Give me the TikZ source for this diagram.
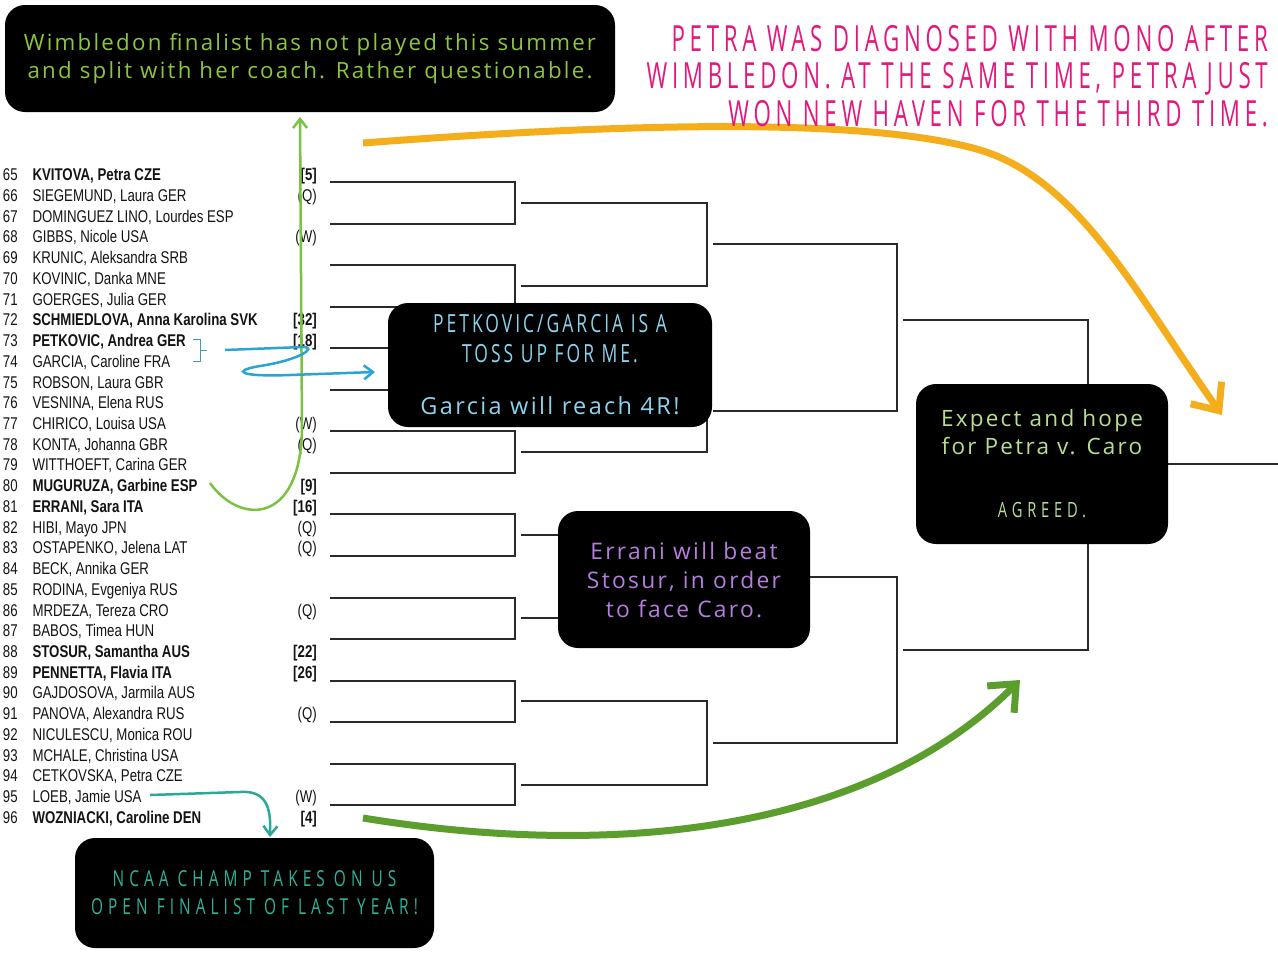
\documentclass[tikz,border=0pt]{standalone}
\usepackage{fontspec}
\usetikzlibrary{arrows.meta}
\newfontfamily\listfont[FakeStretch=0.78]{Liberation Sans}
\newfontfamily\handfont[LetterSpace=10]{Open Sans}
\newfontfamily\pinkfont[FakeStretch=0.62,LetterSpace=13]{Open Sans}
\newfontfamily\tossfont[FakeStretch=0.7,LetterSpace=12]{Open Sans}
\newfontfamily\ncaafont[FakeStretch=0.7,LetterSpace=23]{Open Sans}
\definecolor{listink}{HTML}{141414}
\definecolor{bracketink}{HTML}{2A2A2A}
\definecolor{petrapink}{HTML}{E2197C}
\definecolor{wimgreen}{HTML}{8CC63F}
\definecolor{tossblue}{HTML}{8DD3EE}
\definecolor{hopegreen}{HTML}{B7DF93}
\definecolor{erranipurple}{HTML}{B77EE0}
\definecolor{ncaateal}{HTML}{2DB39B}
\definecolor{arroworange}{HTML}{F5AE1B}
\definecolor{arrowgreen}{HTML}{5B9E2E}
\definecolor{thingreen}{HTML}{7CC242}
\definecolor{arrowblue}{HTML}{2AA4D4}
\definecolor{arrowteal}{HTML}{2AA89A}
\begin{document}
\begin{tikzpicture}[x=1pt,y=-1pt,
	bracket/.style={draw=bracketink,line width=2pt},
	player/.style={anchor=base west,inner sep=0pt,text=listink,font=\listfont\fontsize{17}{17}\selectfont},
	drawnum/.style={player},
	seedmark/.style={player,anchor=base east},
	callout/.style={fill=black,rounded corners=20pt,inner sep=0pt,align=center},
	fatarrow/.style={line width=7pt,-{Straight Barb[length=22pt,width=38pt]}},
	thinarrow/.style={line width=2.5pt,-{Straight Barb[length=9pt,width=14pt]}}]
	\fill[white] (0,0) rectangle (1278,959);
	\useasboundingbox (0,0) rectangle (1278,959);
	% draw list
	\foreach \n/\name/\seed/\wt in {
		65/{KVITOVA, Petra CZE}/{[5]}/\bfseries,
		66/{SIEGEMUND, Laura GER}/{(Q)}/\mdseries,
		67/{DOMINGUEZ LINO, Lourdes ESP}/{}/\mdseries,
		68/{GIBBS, Nicole USA}/{(W)}/\mdseries,
		69/{KRUNIC, Aleksandra SRB}/{}/\mdseries,
		70/{KOVINIC, Danka MNE}/{}/\mdseries,
		71/{GOERGES, Julia GER}/{}/\mdseries,
		72/{SCHMIEDLOVA, Anna Karolina SVK}/{[32]}/\bfseries,
		73/{PETKOVIC, Andrea GER}/{[18]}/\bfseries,
		74/{GARCIA, Caroline FRA}/{}/\mdseries,
		75/{ROBSON, Laura GBR}/{}/\mdseries,
		76/{VESNINA, Elena RUS}/{}/\mdseries,
		77/{CHIRICO, Louisa USA}/{(W)}/\mdseries,
		78/{KONTA, Johanna GBR}/{(Q)}/\mdseries,
		79/{WITTHOEFT, Carina GER}/{}/\mdseries,
		80/{MUGURUZA, Garbine ESP}/{[9]}/\bfseries,
		81/{ERRANI, Sara ITA}/{[16]}/\bfseries,
		82/{HIBI, Mayo JPN}/{(Q)}/\mdseries,
		83/{OSTAPENKO, Jelena LAT}/{(Q)}/\mdseries,
		84/{BECK, Annika GER}/{}/\mdseries,
		85/{RODINA, Evgeniya RUS}/{}/\mdseries,
		86/{MRDEZA, Tereza CRO}/{(Q)}/\mdseries,
		87/{BABOS, Timea HUN}/{}/\mdseries,
		88/{STOSUR, Samantha AUS}/{[22]}/\bfseries,
		89/{PENNETTA, Flavia ITA}/{[26]}/\bfseries,
		90/{GAJDOSOVA, Jarmila AUS}/{}/\mdseries,
		91/{PANOVA, Alexandra RUS}/{(Q)}/\mdseries,
		92/{NICULESCU, Monica ROU}/{}/\mdseries,
		93/{MCHALE, Christina USA}/{}/\mdseries,
		94/{CETKOVSKA, Petra CZE}/{}/\mdseries,
		95/{LOEB, Jamie USA}/{(W)}/\mdseries,
		96/{WOZNIACKI, Caroline DEN}/{[4]}/\bfseries}{
		\pgfmathsetmacro\yy{180.7+20.73*(\n-65)}
		\node[drawnum] (n\n) at (2.7,\yy) {\n};
		\node[player] (p\n) at (32.3,\yy) {\wt\name};
		\node[seedmark] (s\n) at (317,\yy) {\wt\seed};
	}
	% draw bracket
	\foreach \k in {0,...,7}{
		\pgfmathsetmacro\ya{182+83.1*\k}
		\pgfmathsetmacro\yb{\ya+41.55}
		\draw[bracket] (330,\ya) -- (515,\ya) -- (515,\yb) -- (330,\yb);
	}
	\foreach \k in {0,...,3}{
		\pgfmathsetmacro\ya{202.8+166.2*\k}
		\pgfmathsetmacro\yb{\ya+83.1}
		\draw[bracket] (521,\ya) -- (707,\ya) -- (707,\yb) -- (521,\yb);
	}
	\foreach \k in {0,1}{
		\pgfmathsetmacro\ya{244.3+332.4*\k}
		\pgfmathsetmacro\yb{\ya+166.2}
		\draw[bracket] (713,\ya) -- (897,\ya) -- (897,\yb) -- (713,\yb);
	}
	\draw[bracket] (903,320) -- (1088,320) -- (1088,650) -- (903,650);
	\draw[bracket] (1094,464) -- (1278,464);
	% brace
	\draw[arrowblue!70!gray,line width=0.8pt] (193,339) -- (200,339) -- (200,350) -- (207,350) (200,350) -- (200,361) -- (193,361);
	% arrows
	\coordinate (petraFrom) at (363,143);
	\coordinate (petraBend) at (980,150);
	\coordinate (petraTo) at (1222,415);
	\coordinate (wozFrom) at (363,818);
	\coordinate (wozTo) at (1020,680);
	\coordinate (mugFrom) at (210,483);
	\coordinate (wimTip) at (300,117);
	\coordinate (tossFrom) at (225,350);
	\coordinate (tossTo) at (375,372);
	\coordinate (loebFrom) at (150,795);
	\coordinate (ncaaTip) at (270,837);
	\draw[fatarrow,arroworange] (petraFrom) .. controls (600,125) and (860,115) .. (petraBend) .. controls (1080,180) and (1140,300) .. (petraTo);
	\draw[fatarrow,arrowgreen] (wozFrom) .. controls (620,860) and (870,830) .. (wozTo);
	\draw[thinarrow,thingreen] (mugFrom) .. controls (240,525) and (300,525) .. (302,430) -- (wimTip);
	\draw[thinarrow,arrowblue] (tossFrom) -- (303,347) .. controls (318,347) and (300,360) .. (260,366) .. controls (230,371) and (240,377) .. (290,375) -- (tossTo);
	\draw[thinarrow,arrowteal] (loebFrom) -- (240,792) .. controls (268,790) and (271,810) .. (ncaaTip);
	% callouts
	\node[callout,minimum width=610pt,minimum height=107pt,text=wimgreen,font=\handfont\fontsize{22.3}{28}\selectfont] (wimbox) at (310,58.5)
		{Wimbledon finalist has not played this summer\\and split with her coach. Rather questionable.};
	\node[anchor=north east,inner sep=0pt,align=right,text=petrapink,font=\pinkfont\fontsize{36}{37.5}\selectfont] (petranote) at (1268,25)
		{PETRA WAS DIAGNOSED WITH MONO AFTER\\WIMBLEDON. AT THE SAME TIME, PETRA JUST\\WON NEW HAVEN FOR THE THIRD TIME.};
	\node[callout,minimum width=324pt,minimum height=124pt,text=tossblue,font=\tossfont\fontsize{25}{30}\selectfont] (tossbox) at (550,365)
		{PETKOVIC/GARCIA IS A\\TOSS UP FOR ME.\\[22pt]\handfont\fontsize{23.5}{30}\selectfont Garcia will reach 4R!};
	\node[callout,minimum width=252pt,minimum height=160pt,text=hopegreen,font=\handfont\fontsize{22.5}{28}\selectfont] (hopebox) at (1042,464)
		{Expect and hope\\for Petra v. Caro\\[35pt]\ncaafont\fontsize{21}{28}\selectfont AGREED.};
	\node[callout,minimum width=252pt,minimum height=137pt,text=erranipurple,font=\handfont\fontsize{22.8}{29}\selectfont] (erranibox) at (684,579.5)
		{Errani will beat\\Stosur, in order\\to face Caro.};
	\node[callout,minimum width=359pt,minimum height=110pt,text=ncaateal,font=\ncaafont\fontsize{22}{28}\selectfont] (ncaabox) at (254.5,893)
		{NCAA CHAMP TAKES ON US\\OPEN FINALIST OF LAST YEAR!};
\end{tikzpicture}
\end{document}
